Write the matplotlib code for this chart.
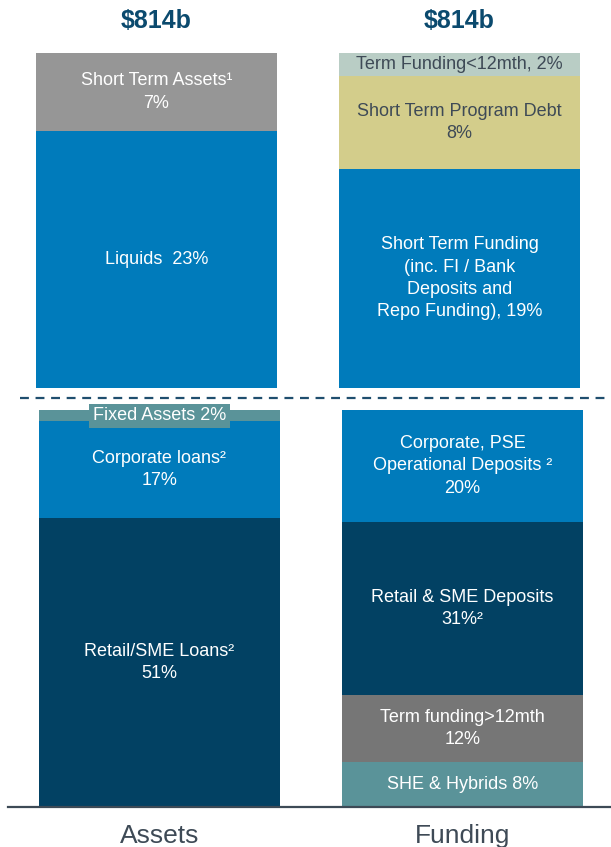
import matplotlib.pyplot as plt
from matplotlib.lines import Line2D

plt.rcParams['font.family'] = ['Liberation Sans', 'DejaVu Sans']

W, H = 611, 847

categories = ['Assets', 'Funding']
totals_bn = [814, 814]

# segments listed bottom -> top
st_assets_labels = ['Liquids  23%', 'Short Term Assets\u00b9\n7%']
st_assets_values = [23, 7]
st_funding_labels = ['Short Term Funding\n(inc. FI / Bank\nDeposits and\nRepo Funding), 19%',
                     'Short Term Program Debt\n8%',
                     'Term Funding<12mth, 2%']
st_funding_values = [19, 8, 2]

lt_assets_labels = ['Retail/SME Loans\u00b2\n51%', 'Corporate loans\u00b2\n17%', 'Fixed Assets 2%']
lt_assets_values = [51, 17, 2]
lt_funding_labels = ['SHE & Hybrids 8%', 'Term funding>12mth\n12%',
                     'Retail & SME Deposits\n31%\u00b2', 'Corporate, PSE\nOperational Deposits \u00b2\n20%']
lt_funding_values = [8, 12, 31, 20]

BLUE = '#007bbb'
NAVY = '#024163'
TEAL = '#5a9399'
GREY = '#969696'
DGREY = '#767676'
SAGE = '#b9cdc5'
KHAKI = '#d3cd8b'
DARKTXT = '#3e4a56'

st_assets_colors = [BLUE, GREY]
st_funding_colors = [BLUE, KHAKI, SAGE]
lt_assets_colors = [NAVY, BLUE, TEAL]
lt_funding_colors = [TEAL, DGREY, NAVY, BLUE]

BAR_W = 241 / 303


def draw_stack(ax, x, values, labels, colors, dark=(), boxed=()):
    total = sum(values)
    bottom = 0
    for v, lab, c in zip(values, labels, colors):
        h = v / total * 100
        ax.bar(x, h, bottom=bottom, width=BAR_W, color=c, linewidth=0)
        tc = DARKTXT if lab in dark else 'white'
        kw = {}
        if lab in boxed:
            kw['bbox'] = dict(facecolor=c, edgecolor='none', pad=2.5)
        ax.text(x, bottom + h / 2, lab, ha='center', va='center', fontsize=13,
                color=tc, linespacing=1.4, **kw)
        bottom += h


fig = plt.figure(figsize=(W / 100, H / 100), dpi=100)

ax_top = fig.add_axes([0, 1 - 388 / H, 1, 335 / H])
ax_bot = fig.add_axes([0, 1 - 807 / H, 1, 397 / H])

draw_stack(ax_top, 0, st_assets_values, st_assets_labels, st_assets_colors)
draw_stack(ax_top, 1, st_funding_values, st_funding_labels, st_funding_colors,
           dark=st_funding_labels[1:])
draw_stack(ax_bot, 0, lt_assets_values, lt_assets_labels, lt_assets_colors,
           boxed=[lt_assets_labels[2]])
draw_stack(ax_bot, 1, lt_funding_values, lt_funding_labels, lt_funding_colors)

ax_top.set_xlim(-156.5 / 303, 454.5 / 303)
ax_bot.set_xlim(-159.5 / 303, 451.5 / 303)
for ax in (ax_top, ax_bot):
    ax.set_ylim(0, 100)
    for s in ax.spines.values():
        s.set_visible(False)
    ax.set_yticks([])

ax_top.set_xticks([])
ax_bot.set_xticks(range(len(categories)))
ax_bot.set_xticklabels(categories, fontsize=19, color=DARKTXT)
ax_bot.tick_params(axis='x', length=0, pad=12)

# baseline
ax_bot.axhline(0, xmin=8 / W, xmax=1, color='#3d4a56', lw=1.6, clip_on=False)

for i, t in enumerate(totals_bn):
    ax_top.text(i, 1 + 32 / 335, '${}b'.format(t), transform=ax_top.get_xaxis_transform(),
                ha='center', va='center', fontsize=18, fontweight='bold', color='#0b4a6e')

# dashed separator between short and long term
fig.add_artist(Line2D([20 / W, 1], [1 - 398 / H] * 2, transform=fig.transFigure,
                      color='#1f4e6e', lw=1.6, linestyle=(0, (4, 3))))

fig.savefig('out.png', dpi=100)
